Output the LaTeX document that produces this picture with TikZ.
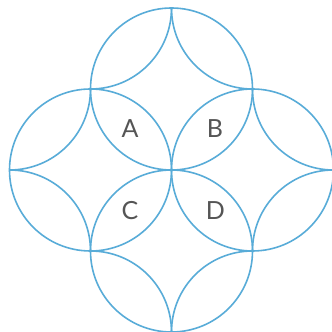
\documentclass[tikz,border=0pt]{standalone}
\usepackage{fontspec}
\setmainfont{Lato}
\definecolor{ringblue}{RGB}{88,172,216}
\definecolor{labelgray}{RGB}{85,85,85}
\begin{document}
\begin{tikzpicture}[x=1pt,y=1pt,
  ring/.style={draw=ringblue,line width=1.6pt},
  lbl/.style={text=labelgray,font=\fontsize{25}{25}\selectfont,inner sep=0pt}]
\useasboundingbox (0,0) rectangle (332,332);
\clip (0,0) rectangle (332,332);
\fill[white] (0,0) rectangle (332,332);
% circle centres
\coordinate (ct) at (171.5,243);
\coordinate (cl) at (90.5,162);
\coordinate (cr) at (252.5,162);
\coordinate (cb) at (171.5,81);
% outer points
\coordinate (T) at (171.5,324);
\coordinate (L) at (9.5,162);
\coordinate (R) at (333.5,162);
\coordinate (B) at (171.5,0);
% four circles
\draw[ring] (ct) circle[radius=81];
\draw[ring] (cl) circle[radius=81];
\draw[ring] (cr) circle[radius=81];
\draw[ring] (cb) circle[radius=81];
% inner concave arcs
\draw[ring] (T) arc[start angle=0,end angle=-90,radius=81];
\draw[ring] (T) arc[start angle=180,end angle=270,radius=81];
\draw[ring] (L) arc[start angle=-90,end angle=0,radius=81];
\draw[ring] (L) arc[start angle=90,end angle=0,radius=81];
\draw[ring] (R) arc[start angle=270,end angle=180,radius=81];
\draw[ring] (R) arc[start angle=90,end angle=180,radius=81];
\draw[ring] (B) arc[start angle=0,end angle=90,radius=81];
\draw[ring] (B) arc[start angle=180,end angle=90,radius=81];
% labels
\node[lbl] (A) at (130,203) {A};
\node[lbl] (Bl) at (215,203) {B};
\node[lbl] (C) at (130,121) {C};
\node[lbl] (D) at (215.5,121) {D};
\end{tikzpicture}
\end{document}
